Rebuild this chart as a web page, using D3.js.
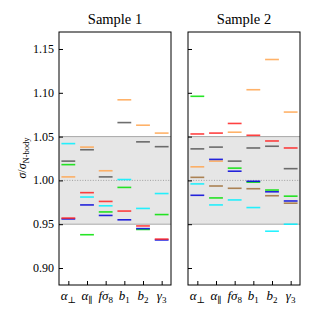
<!DOCTYPE html>
<html>
<head>
<meta charset="utf-8">
<script src="https://cdn.jsdelivr.net/npm/d3@7"></script>
<style>
  body { margin: 0; background: #fff; }
</style>
</head>
<body>
<svg width="315" height="315"></svg>
<script>
// parameter labels (symbol + subscript)
const paramSym = ["α", "α", "fσ", "b", "b", "γ"];
const paramSub = ["⊥", "∥", "8", "1", "2", "3"];
const yTicks = [0.90, 0.95, 1.00, 1.05, 1.10, 1.15];
const titles = ["Sample 1", "Sample 2"];

// sample 1 (no brown series)
const s1Orange = [1.004, 1.038, 1.011, 1.092, 1.063, 1.054];
const s1Gray   = [1.022, 1.035, 1.004, 1.066, 1.044, 1.0385];
const s1Cyan   = [1.042, 0.981, 0.971, 1.001, 0.968, 0.985];
const s1Green  = [1.018, 0.938, 0.964, 0.992, 0.944, 0.961];
const s1Blue   = [0.956, 0.972, 0.960, 0.955, 0.945, 0.932];
const s1Red    = [0.957, 0.986, 0.976, 0.965, 0.948, 0.933];

// sample 2
const s2Orange = [1.0155, 1.022, 1.055, 1.1035, 1.138, 1.078];
const s2Gray   = [1.036, 1.038, 1.022, 1.037, 1.039, 1.0134];
const s2Brown  = [1.0035, 0.9936, 0.991, 0.9905, 0.9825, 0.974];
const s2Cyan   = [0.996, 0.972, 0.9777, 0.969, 0.942, 0.950];
const s2Green  = [1.096, 0.980, 1.014, 0.998, 0.989, 0.982];
const s2Blue   = [0.983, 1.024, 1.0105, 0.999, 0.987, 0.9765];
const s2Red    = [1.053, 1.054, 1.065, 1.0515, 1.045, 1.037];

const colors = {orange: "#ffa54f", gray: "#555555", brown: "#a0703a",
  cyan: "#00f0ff", green: "#00e000", blue: "#0000d8", red: "#ff2020"};

const panels = [
  [["orange", s1Orange], ["gray", s1Gray], ["cyan", s1Cyan], ["green", s1Green], ["blue", s1Blue], ["red", s1Red]],
  [["orange", s2Orange], ["gray", s2Gray], ["brown", s2Brown], ["cyan", s2Cyan], ["green", s2Green], ["blue", s2Blue], ["red", s2Red]]
];

const svg = d3.select("svg")
  .attr("font-family", "'Liberation Serif', 'DejaVu Serif', serif");
const plotTop = 32, plotBottom = 285, pw = 112;
const lefts = [59, 188];

const y = d3.scaleLinear().domain([0.8806, 1.1694]).range([plotBottom, plotTop]);

panels.forEach((series, pi) => {
  const x = d3.scaleLinear().domain([-0.5, 5.5]).range([lefts[pi], lefts[pi] + pw]);
  const g = svg.append("g");

  // shaded band
  g.append("rect")
    .attr("x", lefts[pi]).attr("width", pw)
    .attr("y", y(1.05)).attr("height", y(0.95) - y(1.05))
    .attr("fill", "#e6e6e6");
  [0.95, 1.05].forEach(v => g.append("line")
    .attr("x1", lefts[pi]).attr("x2", lefts[pi] + pw)
    .attr("y1", y(v)).attr("y2", y(v))
    .attr("stroke", "#a8a8a8").attr("stroke-width", 1));
  g.append("line")
    .attr("x1", lefts[pi]).attr("x2", lefts[pi] + pw)
    .attr("y1", y(1)).attr("y2", y(1))
    .attr("stroke", "#999").attr("stroke-width", 0.9)
    .attr("stroke-dasharray", "1,1.6");

  // segments
  series.forEach(([c, vals]) => {
    g.selectAll(null).data(vals).enter().append("line")
      .attr("x1", (d, i) => x(i - 0.37))
      .attr("x2", (d, i) => x(i + 0.37))
      .attr("y1", d => y(d)).attr("y2", d => y(d))
      .attr("stroke", colors[c]).attr("stroke-width", 1.6)
      .attr("stroke-opacity", 0.85);
  });

  // axes (inward ticks)
  const yAxis = d3.axisRight(y).tickValues(yTicks).tickSize(4).tickFormat("");
  g.append("g").attr("transform", `translate(${lefts[pi]},0)`).call(yAxis)
    .call(a => a.select(".domain").remove());
  const xAxis = d3.axisTop(x).tickValues(d3.range(6)).tickSize(4).tickFormat("");
  g.append("g").attr("transform", `translate(0,${plotBottom})`).call(xAxis)
    .call(a => a.select(".domain").remove());

  g.append("rect")
    .attr("x", lefts[pi]).attr("y", plotTop).attr("width", pw).attr("height", plotBottom - plotTop)
    .attr("fill", "none").attr("stroke", "#000").attr("stroke-width", 1);

  if (pi === 0) {
    g.selectAll(null).data(yTicks).enter().append("text")
      .attr("x", lefts[pi] - 5).attr("y", d => y(d) + 4)
      .attr("text-anchor", "end").attr("font-size", 12)
      .text(d => d.toFixed(2));
  }

  // x labels
  const lab = g.selectAll(null).data(paramSym).enter().append("text")
    .attr("x", (d, i) => x(i)).attr("y", 300)
    .attr("text-anchor", "middle").attr("font-size", 13);
  lab.append("tspan").attr("font-style", "italic").text(d => d);
  lab.append("tspan").attr("font-size", 9).attr("dy", 2.5)
    .text((d, i) => paramSub[i]);

  g.append("text")
    .attr("x", lefts[pi] + pw / 2).attr("y", 24)
    .attr("text-anchor", "middle").attr("font-size", 14.5)
    .text(titles[pi]);
});

// y label
const yl = svg.append("text")
  .attr("transform", "translate(26,158) rotate(-90)")
  .attr("text-anchor", "middle").attr("font-size", 12);
yl.append("tspan").attr("font-style", "italic").text("σ");
yl.append("tspan").text("/");
yl.append("tspan").attr("font-style", "italic").text("σ");
yl.append("tspan").attr("font-size", 8.5).attr("dy", 2.5).text("N-body");
</script>
</body>
</html>
